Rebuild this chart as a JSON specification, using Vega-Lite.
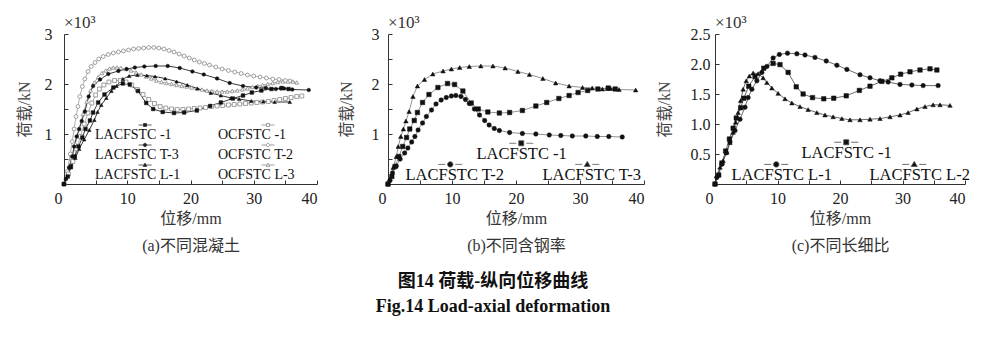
{
"$schema":"https://vega.github.io/schema/vega-lite/v6.json",
"background":"white",
"padding":{"left":16,"top":14,"right":10,"bottom":10},
"config":{"view":{"stroke":null},"font":"Liberation Serif",
 "axis":{"grid":false,"domainColor":"#333","tickColor":"#333","tickSize":-4,"labelFont":"Liberation Serif","labelFontSize":16,"labelColor":"#222","titleFont":"Liberation Serif, Noto Sans CJK SC","titleFontSize":16,"titleFontWeight":"normal","titleColor":"#444"},
 "legend":{"labelFont":"Liberation Serif","labelColor":"#111","labelLimit":300,"padding":0}},
"title":{"text":"图14  荷载-纵向位移曲线","subtitle":"Fig.14  Load-axial deformation","orient":"bottom","anchor":"middle","font":"Liberation Serif, Noto Sans CJK SC","fontSize":18,"fontWeight":"bold","color":"#111","subtitleFont":"Liberation Serif","subtitleFontSize":18,"subtitleFontWeight":"bold","subtitleColor":"#111","offset":20,"subtitlePadding":7},
"datasets":{"curves":[
{"specimen":"LACFSTC -1","d":0,"P":0},{"specimen":"LACFSTC -1","d":0.6,"P":0.15},{"specimen":"LACFSTC -1","d":1.1,"P":0.35},{"specimen":"LACFSTC -1","d":1.7,"P":0.55},{"specimen":"LACFSTC -1","d":2.3,"P":0.75},{"specimen":"LACFSTC -1","d":2.9,"P":0.93},{"specimen":"LACFSTC -1","d":3.4,"P":1.1},{"specimen":"LACFSTC -1","d":4.1,"P":1.27},{"specimen":"LACFSTC -1","d":4.6,"P":1.43},{"specimen":"LACFSTC -1","d":5.4,"P":1.63},{"specimen":"LACFSTC -1","d":6.4,"P":1.79},{"specimen":"LACFSTC -1","d":7.8,"P":1.93},{"specimen":"LACFSTC -1","d":9.3,"P":2.01},{"specimen":"LACFSTC -1","d":10.4,"P":1.99},{"specimen":"LACFSTC -1","d":11.7,"P":1.86},{"specimen":"LACFSTC -1","d":13.0,"P":1.62},{"specimen":"LACFSTC -1","d":14.1,"P":1.5},{"specimen":"LACFSTC -1","d":15.6,"P":1.44},{"specimen":"LACFSTC -1","d":17.4,"P":1.42},{"specimen":"LACFSTC -1","d":19.0,"P":1.43},{"specimen":"LACFSTC -1","d":21.0,"P":1.47},{"specimen":"LACFSTC -1","d":23.1,"P":1.56},{"specimen":"LACFSTC -1","d":24.8,"P":1.63},{"specimen":"LACFSTC -1","d":26.7,"P":1.71},{"specimen":"LACFSTC -1","d":28.3,"P":1.77},{"specimen":"LACFSTC -1","d":29.7,"P":1.83},{"specimen":"LACFSTC -1","d":31.2,"P":1.87},{"specimen":"LACFSTC -1","d":32.8,"P":1.9},{"specimen":"LACFSTC -1","d":34.4,"P":1.92},{"specimen":"LACFSTC -1","d":35.5,"P":1.9},
{"specimen":"LACFSTC L-1","d":0,"P":0},{"specimen":"LACFSTC L-1","d":0.3,"P":0.11},{"specimen":"LACFSTC L-1","d":1.1,"P":0.33},{"specimen":"LACFSTC L-1","d":1.8,"P":0.52},{"specimen":"LACFSTC L-1","d":2.4,"P":0.7},{"specimen":"LACFSTC L-1","d":3.2,"P":0.89},{"specimen":"LACFSTC L-1","d":4.0,"P":1.08},{"specimen":"LACFSTC L-1","d":4.8,"P":1.28},{"specimen":"LACFSTC L-1","d":5.3,"P":1.44},{"specimen":"LACFSTC L-1","d":5.9,"P":1.58},{"specimen":"LACFSTC L-1","d":6.7,"P":1.72},{"specimen":"LACFSTC L-1","d":7.5,"P":1.86},{"specimen":"LACFSTC L-1","d":8.3,"P":1.96},{"specimen":"LACFSTC L-1","d":9.3,"P":2.1},{"specimen":"LACFSTC L-1","d":10.3,"P":2.16},{"specimen":"LACFSTC L-1","d":11.6,"P":2.18},{"specimen":"LACFSTC L-1","d":13.1,"P":2.17},{"specimen":"LACFSTC L-1","d":14.4,"P":2.15},{"specimen":"LACFSTC L-1","d":16.0,"P":2.11},{"specimen":"LACFSTC L-1","d":17.8,"P":2.05},{"specimen":"LACFSTC L-1","d":19.5,"P":1.98},{"specimen":"LACFSTC L-1","d":21.1,"P":1.91},{"specimen":"LACFSTC L-1","d":23.2,"P":1.82},{"specimen":"LACFSTC L-1","d":24.8,"P":1.77},{"specimen":"LACFSTC L-1","d":26.4,"P":1.72},{"specimen":"LACFSTC L-1","d":27.7,"P":1.7},{"specimen":"LACFSTC L-1","d":29.6,"P":1.66},{"specimen":"LACFSTC L-1","d":31.5,"P":1.65},{"specimen":"LACFSTC L-1","d":33.3,"P":1.64},{"specimen":"LACFSTC L-1","d":35.7,"P":1.64},
{"specimen":"LACFSTC L-2","d":0,"P":0},{"specimen":"LACFSTC L-2","d":0.3,"P":0.14},{"specimen":"LACFSTC L-2","d":0.8,"P":0.28},{"specimen":"LACFSTC L-2","d":1.3,"P":0.39},{"specimen":"LACFSTC L-2","d":1.9,"P":0.53},{"specimen":"LACFSTC L-2","d":2.4,"P":0.69},{"specimen":"LACFSTC L-2","d":2.9,"P":0.86},{"specimen":"LACFSTC L-2","d":3.3,"P":1.03},{"specimen":"LACFSTC L-2","d":3.7,"P":1.19},{"specimen":"LACFSTC L-2","d":4.1,"P":1.39},{"specimen":"LACFSTC L-2","d":4.5,"P":1.58},{"specimen":"LACFSTC L-2","d":5.0,"P":1.72},{"specimen":"LACFSTC L-2","d":5.5,"P":1.8},{"specimen":"LACFSTC L-2","d":6.1,"P":1.85},{"specimen":"LACFSTC L-2","d":6.9,"P":1.84},{"specimen":"LACFSTC L-2","d":7.7,"P":1.77},{"specimen":"LACFSTC L-2","d":8.3,"P":1.69},{"specimen":"LACFSTC L-2","d":9.1,"P":1.6},{"specimen":"LACFSTC L-2","d":10.1,"P":1.51},{"specimen":"LACFSTC L-2","d":11.2,"P":1.42},{"specimen":"LACFSTC L-2","d":12.3,"P":1.35},{"specimen":"LACFSTC L-2","d":13.6,"P":1.29},{"specimen":"LACFSTC L-2","d":14.9,"P":1.24},{"specimen":"LACFSTC L-2","d":16.3,"P":1.19},{"specimen":"LACFSTC L-2","d":17.6,"P":1.15},{"specimen":"LACFSTC L-2","d":18.9,"P":1.12},{"specimen":"LACFSTC L-2","d":20.3,"P":1.09},{"specimen":"LACFSTC L-2","d":21.6,"P":1.07},{"specimen":"LACFSTC L-2","d":23.2,"P":1.07},{"specimen":"LACFSTC L-2","d":24.8,"P":1.08},{"specimen":"LACFSTC L-2","d":26.4,"P":1.09},{"specimen":"LACFSTC L-2","d":28.0,"P":1.12},{"specimen":"LACFSTC L-2","d":29.6,"P":1.15},{"specimen":"LACFSTC L-2","d":30.9,"P":1.19},{"specimen":"LACFSTC L-2","d":32.3,"P":1.25},{"specimen":"LACFSTC L-2","d":33.6,"P":1.29},{"specimen":"LACFSTC L-2","d":34.9,"P":1.32},{"specimen":"LACFSTC L-2","d":36.0,"P":1.32},{"specimen":"LACFSTC L-2","d":37.6,"P":1.31},
{"specimen":"LACFSTC T-2","d":0,"P":0},{"specimen":"LACFSTC T-2","d":0.3,"P":0.07},{"specimen":"LACFSTC T-2","d":0.7,"P":0.22},{"specimen":"LACFSTC T-2","d":1.3,"P":0.36},{"specimen":"LACFSTC T-2","d":1.9,"P":0.5},{"specimen":"LACFSTC T-2","d":2.6,"P":0.62},{"specimen":"LACFSTC T-2","d":3.1,"P":0.72},{"specimen":"LACFSTC T-2","d":3.7,"P":0.84},{"specimen":"LACFSTC T-2","d":4.2,"P":0.95},{"specimen":"LACFSTC T-2","d":4.7,"P":1.08},{"specimen":"LACFSTC T-2","d":5.4,"P":1.22},{"specimen":"LACFSTC T-2","d":6.0,"P":1.35},{"specimen":"LACFSTC T-2","d":6.8,"P":1.48},{"specimen":"LACFSTC T-2","d":7.5,"P":1.6},{"specimen":"LACFSTC T-2","d":8.3,"P":1.68},{"specimen":"LACFSTC T-2","d":9.1,"P":1.73},{"specimen":"LACFSTC T-2","d":9.9,"P":1.76},{"specimen":"LACFSTC T-2","d":10.6,"P":1.77},{"specimen":"LACFSTC T-2","d":11.4,"P":1.75},{"specimen":"LACFSTC T-2","d":12.1,"P":1.69},{"specimen":"LACFSTC T-2","d":12.7,"P":1.61},{"specimen":"LACFSTC T-2","d":13.5,"P":1.5},{"specimen":"LACFSTC T-2","d":14.3,"P":1.38},{"specimen":"LACFSTC T-2","d":15.1,"P":1.27},{"specimen":"LACFSTC T-2","d":15.8,"P":1.18},{"specimen":"LACFSTC T-2","d":16.6,"P":1.11},{"specimen":"LACFSTC T-2","d":17.4,"P":1.07},{"specimen":"LACFSTC T-2","d":19.0,"P":1.03},{"specimen":"LACFSTC T-2","d":21.0,"P":1.01},{"specimen":"LACFSTC T-2","d":23.1,"P":1.0},{"specimen":"LACFSTC T-2","d":25.2,"P":0.98},{"specimen":"LACFSTC T-2","d":27.0,"P":0.97},{"specimen":"LACFSTC T-2","d":28.8,"P":0.96},{"specimen":"LACFSTC T-2","d":30.9,"P":0.96},{"specimen":"LACFSTC T-2","d":32.7,"P":0.95},{"specimen":"LACFSTC T-2","d":34.5,"P":0.95},{"specimen":"LACFSTC T-2","d":36.6,"P":0.94},
{"specimen":"LACFSTC T-3","d":0,"P":0},{"specimen":"LACFSTC T-3","d":0.3,"P":0.1},{"specimen":"LACFSTC T-3","d":0.8,"P":0.33},{"specimen":"LACFSTC T-3","d":1.3,"P":0.55},{"specimen":"LACFSTC T-3","d":1.6,"P":0.75},{"specimen":"LACFSTC T-3","d":2.0,"P":0.95},{"specimen":"LACFSTC T-3","d":2.4,"P":1.1},{"specimen":"LACFSTC T-3","d":2.8,"P":1.26},{"specimen":"LACFSTC T-3","d":3.3,"P":1.45},{"specimen":"LACFSTC T-3","d":3.9,"P":1.75},{"specimen":"LACFSTC T-3","d":4.6,"P":1.96},{"specimen":"LACFSTC T-3","d":5.7,"P":2.09},{"specimen":"LACFSTC T-3","d":7.0,"P":2.2},{"specimen":"LACFSTC T-3","d":8.6,"P":2.26},{"specimen":"LACFSTC T-3","d":9.9,"P":2.3},{"specimen":"LACFSTC T-3","d":11.2,"P":2.33},{"specimen":"LACFSTC T-3","d":12.7,"P":2.35},{"specimen":"LACFSTC T-3","d":14.5,"P":2.36},{"specimen":"LACFSTC T-3","d":16.4,"P":2.36},{"specimen":"LACFSTC T-3","d":18.3,"P":2.32},{"specimen":"LACFSTC T-3","d":20.3,"P":2.25},{"specimen":"LACFSTC T-3","d":22.1,"P":2.19},{"specimen":"LACFSTC T-3","d":24.2,"P":2.11},{"specimen":"LACFSTC T-3","d":26.2,"P":2.02},{"specimen":"LACFSTC T-3","d":28.3,"P":1.96},{"specimen":"LACFSTC T-3","d":30.4,"P":1.93},{"specimen":"LACFSTC T-3","d":31.9,"P":1.92},{"specimen":"LACFSTC T-3","d":33.5,"P":1.9},{"specimen":"LACFSTC T-3","d":34.3,"P":1.91},{"specimen":"LACFSTC T-3","d":34.8,"P":1.91},{"specimen":"LACFSTC T-3","d":36.1,"P":1.89},{"specimen":"LACFSTC T-3","d":38.7,"P":1.88},
{"specimen":"OCFSTC T-2","d":0,"P":0},{"specimen":"OCFSTC T-2","d":0.5,"P":0.25},{"specimen":"OCFSTC T-2","d":1.0,"P":0.6},{"specimen":"OCFSTC T-2","d":1.3,"P":0.85},{"specimen":"OCFSTC T-2","d":1.6,"P":1.1},{"specimen":"OCFSTC T-2","d":1.9,"P":1.35},{"specimen":"OCFSTC T-2","d":2.2,"P":1.55},{"specimen":"OCFSTC T-2","d":2.5,"P":1.75},{"specimen":"OCFSTC T-2","d":2.9,"P":1.95},{"specimen":"OCFSTC T-2","d":3.3,"P":2.1},{"specimen":"OCFSTC T-2","d":3.8,"P":2.25},{"specimen":"OCFSTC T-2","d":4.3,"P":2.35},{"specimen":"OCFSTC T-2","d":4.9,"P":2.43},{"specimen":"OCFSTC T-2","d":5.5,"P":2.5},{"specimen":"OCFSTC T-2","d":6.2,"P":2.55},{"specimen":"OCFSTC T-2","d":7.0,"P":2.59},{"specimen":"OCFSTC T-2","d":7.8,"P":2.62},{"specimen":"OCFSTC T-2","d":8.6,"P":2.64},{"specimen":"OCFSTC T-2","d":9.4,"P":2.66},{"specimen":"OCFSTC T-2","d":10.2,"P":2.68},{"specimen":"OCFSTC T-2","d":11.0,"P":2.7},{"specimen":"OCFSTC T-2","d":11.8,"P":2.71},{"specimen":"OCFSTC T-2","d":12.6,"P":2.72},{"specimen":"OCFSTC T-2","d":13.4,"P":2.73},{"specimen":"OCFSTC T-2","d":14.2,"P":2.73},{"specimen":"OCFSTC T-2","d":15.0,"P":2.72},{"specimen":"OCFSTC T-2","d":15.8,"P":2.7},{"specimen":"OCFSTC T-2","d":16.6,"P":2.67},{"specimen":"OCFSTC T-2","d":17.4,"P":2.64},{"specimen":"OCFSTC T-2","d":18.2,"P":2.6},{"specimen":"OCFSTC T-2","d":19.0,"P":2.56},{"specimen":"OCFSTC T-2","d":19.8,"P":2.52},{"specimen":"OCFSTC T-2","d":20.6,"P":2.48},{"specimen":"OCFSTC T-2","d":21.4,"P":2.44},{"specimen":"OCFSTC T-2","d":22.2,"P":2.41},{"specimen":"OCFSTC T-2","d":23.0,"P":2.38},{"specimen":"OCFSTC T-2","d":24.0,"P":2.34},{"specimen":"OCFSTC T-2","d":25.0,"P":2.3},{"specimen":"OCFSTC T-2","d":26.0,"P":2.27},{"specimen":"OCFSTC T-2","d":27.0,"P":2.24},{"specimen":"OCFSTC T-2","d":28.0,"P":2.21},{"specimen":"OCFSTC T-2","d":29.0,"P":2.18},{"specimen":"OCFSTC T-2","d":30.0,"P":2.16},{"specimen":"OCFSTC T-2","d":31.0,"P":2.14},{"specimen":"OCFSTC T-2","d":32.0,"P":2.12},{"specimen":"OCFSTC T-2","d":33.0,"P":2.1},{"specimen":"OCFSTC T-2","d":34.0,"P":2.09},{"specimen":"OCFSTC T-2","d":35.0,"P":2.07},{"specimen":"OCFSTC T-2","d":35.7,"P":2.06},
{"specimen":"OCFSTC L-3","d":0,"P":0},{"specimen":"OCFSTC L-3","d":0.6,"P":0.2},{"specimen":"OCFSTC L-3","d":1.2,"P":0.5},{"specimen":"OCFSTC L-3","d":1.8,"P":0.8},{"specimen":"OCFSTC L-3","d":2.4,"P":1.1},{"specimen":"OCFSTC L-3","d":3.0,"P":1.4},{"specimen":"OCFSTC L-3","d":3.6,"P":1.65},{"specimen":"OCFSTC L-3","d":4.2,"P":1.87},{"specimen":"OCFSTC L-3","d":4.8,"P":2.03},{"specimen":"OCFSTC L-3","d":5.4,"P":2.14},{"specimen":"OCFSTC L-3","d":6.0,"P":2.22},{"specimen":"OCFSTC L-3","d":6.6,"P":2.27},{"specimen":"OCFSTC L-3","d":7.2,"P":2.31},{"specimen":"OCFSTC L-3","d":7.8,"P":2.33},{"specimen":"OCFSTC L-3","d":8.4,"P":2.33},{"specimen":"OCFSTC L-3","d":9.0,"P":2.32},{"specimen":"OCFSTC L-3","d":9.8,"P":2.3},{"specimen":"OCFSTC L-3","d":10.6,"P":2.27},{"specimen":"OCFSTC L-3","d":11.4,"P":2.23},{"specimen":"OCFSTC L-3","d":12.2,"P":2.19},{"specimen":"OCFSTC L-3","d":13.0,"P":2.15},{"specimen":"OCFSTC L-3","d":13.8,"P":2.11},{"specimen":"OCFSTC L-3","d":14.6,"P":2.07},{"specimen":"OCFSTC L-3","d":15.4,"P":2.04},{"specimen":"OCFSTC L-3","d":16.2,"P":2.02},{"specimen":"OCFSTC L-3","d":17.0,"P":2.0},{"specimen":"OCFSTC L-3","d":17.8,"P":1.98},{"specimen":"OCFSTC L-3","d":18.6,"P":1.96},{"specimen":"OCFSTC L-3","d":19.4,"P":1.95},{"specimen":"OCFSTC L-3","d":20.2,"P":1.93},{"specimen":"OCFSTC L-3","d":21.0,"P":1.91},{"specimen":"OCFSTC L-3","d":21.8,"P":1.89},{"specimen":"OCFSTC L-3","d":22.6,"P":1.87},{"specimen":"OCFSTC L-3","d":23.4,"P":1.86},{"specimen":"OCFSTC L-3","d":24.2,"P":1.85},{"specimen":"OCFSTC L-3","d":25.0,"P":1.85},{"specimen":"OCFSTC L-3","d":25.8,"P":1.85},{"specimen":"OCFSTC L-3","d":26.6,"P":1.86},{"specimen":"OCFSTC L-3","d":27.4,"P":1.87},{"specimen":"OCFSTC L-3","d":28.2,"P":1.89},{"specimen":"OCFSTC L-3","d":29.0,"P":1.91},{"specimen":"OCFSTC L-3","d":29.8,"P":1.94},{"specimen":"OCFSTC L-3","d":30.6,"P":1.96},{"specimen":"OCFSTC L-3","d":31.4,"P":1.98},{"specimen":"OCFSTC L-3","d":32.2,"P":2.0},{"specimen":"OCFSTC L-3","d":33.0,"P":2.02},{"specimen":"OCFSTC L-3","d":33.8,"P":2.04},{"specimen":"OCFSTC L-3","d":34.6,"P":2.05},{"specimen":"OCFSTC L-3","d":35.4,"P":2.05},{"specimen":"OCFSTC L-3","d":36.2,"P":2.05},{"specimen":"OCFSTC L-3","d":36.8,"P":2.03},
{"specimen":"OCFSTC -1","d":0,"P":0},{"specimen":"OCFSTC -1","d":0.7,"P":0.2},{"specimen":"OCFSTC -1","d":1.4,"P":0.45},{"specimen":"OCFSTC -1","d":2.0,"P":0.7},{"specimen":"OCFSTC -1","d":2.6,"P":0.95},{"specimen":"OCFSTC -1","d":3.2,"P":1.2},{"specimen":"OCFSTC -1","d":3.8,"P":1.42},{"specimen":"OCFSTC -1","d":4.4,"P":1.62},{"specimen":"OCFSTC -1","d":5.0,"P":1.78},{"specimen":"OCFSTC -1","d":5.6,"P":1.9},{"specimen":"OCFSTC -1","d":6.3,"P":1.98},{"specimen":"OCFSTC -1","d":7.1,"P":2.04},{"specimen":"OCFSTC -1","d":8.0,"P":2.07},{"specimen":"OCFSTC -1","d":8.9,"P":2.07},{"specimen":"OCFSTC -1","d":9.8,"P":2.04},{"specimen":"OCFSTC -1","d":10.7,"P":1.98},{"specimen":"OCFSTC -1","d":11.6,"P":1.89},{"specimen":"OCFSTC -1","d":12.5,"P":1.79},{"specimen":"OCFSTC -1","d":13.4,"P":1.69},{"specimen":"OCFSTC -1","d":14.3,"P":1.61},{"specimen":"OCFSTC -1","d":15.2,"P":1.55},{"specimen":"OCFSTC -1","d":16.1,"P":1.52},{"specimen":"OCFSTC -1","d":17.0,"P":1.5},{"specimen":"OCFSTC -1","d":17.9,"P":1.49},{"specimen":"OCFSTC -1","d":18.8,"P":1.49},{"specimen":"OCFSTC -1","d":19.7,"P":1.5},{"specimen":"OCFSTC -1","d":20.6,"P":1.51},{"specimen":"OCFSTC -1","d":21.5,"P":1.52},{"specimen":"OCFSTC -1","d":22.4,"P":1.53},{"specimen":"OCFSTC -1","d":23.3,"P":1.55},{"specimen":"OCFSTC -1","d":24.2,"P":1.56},{"specimen":"OCFSTC -1","d":25.1,"P":1.57},{"specimen":"OCFSTC -1","d":26.0,"P":1.58},{"specimen":"OCFSTC -1","d":26.9,"P":1.59},{"specimen":"OCFSTC -1","d":27.8,"P":1.6},{"specimen":"OCFSTC -1","d":28.7,"P":1.61},{"specimen":"OCFSTC -1","d":29.6,"P":1.62},{"specimen":"OCFSTC -1","d":30.5,"P":1.63},{"specimen":"OCFSTC -1","d":31.4,"P":1.64},{"specimen":"OCFSTC -1","d":32.3,"P":1.65},{"specimen":"OCFSTC -1","d":33.2,"P":1.67},{"specimen":"OCFSTC -1","d":34.1,"P":1.69},{"specimen":"OCFSTC -1","d":35.0,"P":1.71},{"specimen":"OCFSTC -1","d":35.9,"P":1.73},{"specimen":"OCFSTC -1","d":36.8,"P":1.75},{"specimen":"OCFSTC -1","d":37.6,"P":1.76}
]},
"bounds":"flush",
"spacing":71,
"hconcat":[
{"width":253,"height":150,
 "title":{"text":"×10³","orient":"top","anchor":"start","frame":"group","font":"Liberation Serif","fontSize":17,"fontWeight":"normal","color":"#333","offset":-6},
 "data":{"name":"curves"},
 "encoding":{
  "x":{"field":"d","type":"quantitative","scale":{"domain":[0,40],"nice":false},"axis":{"title":["位移/mm","(a)不同混凝土"],"titleLineHeight":27,"titleColor":"#333","values":[0,5,10,15,20,25,30,35,40],"labelExpr":"datum.value % 10 === 0 ? datum.label : ''","labelPadding":10,"titlePadding":4,"labelOffset":{"condition":{"test":"datum.value === 0","value":-10},"value":0}}},
  "y":{"field":"P","type":"quantitative","scale":{"domain":[0,3],"nice":false},"axis":{"title":"荷载/kN","values":[0,0.5,1,1.5,2,2.5,3],"labelExpr":"datum.value > 0 && datum.value % 1 === 0 ? format(datum.value, 'd') : ''","labelPadding":16,"titlePadding":12}}
 },
 "layer":[
  {"transform":[{"filter":{"field":"specimen","oneOf":["OCFSTC -1","OCFSTC T-2","OCFSTC L-3"]}}],"mark":{"type":"line","stroke":"#9a9a9a","strokeWidth":0.8},"encoding":{"detail":{"field":"specimen"}}},
  {"transform":[{"filter":{"field":"specimen","oneOf":["LACFSTC -1","LACFSTC T-3","LACFSTC L-1"]}}],"mark":{"type":"line","stroke":"#222","strokeWidth":0.9},"encoding":{"detail":{"field":"specimen"}}},
  {"transform":[{"filter":{"field":"specimen","oneOf":["OCFSTC -1","OCFSTC T-2","OCFSTC L-3"]}}],"mark":{"type":"point","filled":true,"fill":"white","stroke":"#888","strokeWidth":0.8,"size":15,"opacity":1},"encoding":{"shape":{"field":"specimen","scale":{"domain":["OCFSTC -1","OCFSTC T-2","OCFSTC L-3"],"range":["square","circle","triangle-up"]},"legend":null}}},
  {"transform":[{"filter":{"field":"specimen","oneOf":["LACFSTC -1","LACFSTC T-3","LACFSTC L-1"]}}],"mark":{"type":"point","filled":true,"fill":"#111","stroke":"#111","strokeWidth":0.5,"size":13,"opacity":1},"encoding":{"shape":{"field":"specimen","scale":{"domain":["LACFSTC -1","LACFSTC T-3","LACFSTC L-1"],"range":["square","circle","triangle-up"]},"legend":null}}},
  {"transform":[{"filter":"false"}],"mark":{"type":"point","filled":true,"fill":"#111","stroke":"#333","strokeWidth":0.8,"opacity":1},"encoding":{"shape":{"field":"specimen","scale":{"domain":["LACFSTC -1","LACFSTC T-3","LACFSTC L-1"],"range":["M52.5,-10H65.5M57.5,-11.5H60.5V-8.5H57.5Z","M52.5,-10H65.5M57.3,-10A1.7,1.7,0,1,0,60.7,-10A1.7,1.7,0,1,0,57.3,-10Z","M52.5,-10H65.5M59,-11.9L60.8,-8.6H57.2Z"]},"legend":{"orient":"none","legendX":15,"legendY":94,"title":null,"symbolSize":4,"symbolStrokeWidth":0.8,"labelFontSize":14,"labelOffset":2,"rowPadding":-1}}}},
  {"transform":[{"filter":"false"}],"mark":{"type":"point","filled":true,"fill":"white","stroke":"#888","strokeWidth":0.8,"opacity":1},"encoding":{"shape":{"field":"specimen","scale":{"domain":["OCFSTC -1","OCFSTC T-2","OCFSTC L-3"],"range":["M52.5,-10H57.5M60.5,-10H65.5M57.5,-11.5H60.5V-8.5H57.5Z","M52.5,-10H57.3M60.7,-10H65.5M57.3,-10A1.7,1.7,0,1,0,60.7,-10A1.7,1.7,0,1,0,57.3,-10Z","M52.5,-10H57.9M60.1,-10H65.5M59,-11.9L60.8,-8.6H57.2Z"]},"legend":{"orient":"none","legendX":138,"legendY":94,"title":null,"symbolSize":4,"symbolStrokeWidth":0.8,"labelFontSize":14,"labelOffset":2,"rowPadding":-1}}}}
 ],
 "resolve":{"scale":{"shape":"independent"},"legend":{"shape":"independent"}}
},
{"width":256,"height":150,
 "title":{"text":"×10³","orient":"top","anchor":"start","frame":"group","font":"Liberation Serif","fontSize":17,"fontWeight":"normal","color":"#333","offset":-6},
 "data":{"name":"curves"},
 "transform":[{"filter":{"field":"specimen","oneOf":["LACFSTC -1","LACFSTC T-2","LACFSTC T-3"]}}],
 "encoding":{
  "x":{"field":"d","type":"quantitative","scale":{"domain":[0,40],"nice":false},"axis":{"title":["位移/mm","(b)不同含钢率"],"titleLineHeight":27,"titleColor":"#333","values":[0,5,10,15,20,25,30,35,40],"labelExpr":"datum.value % 10 === 0 ? datum.label : ''","labelPadding":10,"titlePadding":4,"labelOffset":{"condition":{"test":"datum.value === 0","value":-10},"value":0}}},
  "y":{"field":"P","type":"quantitative","scale":{"domain":[0,3],"nice":false},"axis":{"title":"荷载/kN","values":[0,0.5,1,1.5,2,2.5,3],"labelExpr":"datum.value > 0 && datum.value % 1 === 0 ? format(datum.value, 'd') : ''","labelPadding":13,"titlePadding":17}}
 },
 "layer":[
  {"mark":{"type":"line","stroke":"#777","strokeWidth":0.8},"encoding":{"detail":{"field":"specimen"}}},
  {"mark":{"type":"point","filled":true,"fill":"#111","stroke":"#111","strokeWidth":0.5,"size":20,"opacity":1},"encoding":{"shape":{"field":"specimen","scale":{"domain":["LACFSTC -1","LACFSTC T-2","LACFSTC T-3"],"range":["square","circle","triangle-up"]},"legend":null}}},
  {"transform":[{"filter":"false"}],"mark":{"type":"point","filled":true,"fill":"#111","stroke":"#555","strokeWidth":0.8,"opacity":1},"encoding":{"shape":{"field":"specimen","scale":{"domain":["LACFSTC -1"],"range":["M43,-11H50M60,-11H67M52.5,-13.5H57.5V-8.5H52.5Z"]},"legend":{"orient":"none","legendX":70,"legendY":112,"title":null,"symbolSize":4,"symbolStrokeWidth":0.8,"labelFontSize":16.5,"labelOffset":2}}}},
  {"transform":[{"filter":"false"}],"mark":{"type":"point","filled":true,"fill":"#111","stroke":"#555","strokeWidth":0.8,"opacity":1},"encoding":{"shape":{"field":"specimen","scale":{"domain":["LACFSTC T-2","LACFSTC T-3"],"range":["M43,-11H50M60,-11H67M52.3,-11A2.7,2.7,0,1,0,57.7,-11A2.7,2.7,0,1,0,52.3,-11Z","M43,-11H50M60,-11H67M55,-14L58,-9H52Z"]},"legend":{"orient":"none","legendX":-1,"legendY":133,"columns":2,"columnPadding":19,"title":null,"symbolSize":4,"symbolStrokeWidth":0.8,"labelFontSize":16.5,"labelOffset":2}}}}
 ],
 "resolve":{"scale":{"shape":"independent"},"legend":{"shape":"independent"}}
},
{"width":250,"height":150,
 "title":{"text":"×10³","orient":"top","anchor":"start","frame":"group","font":"Liberation Serif","fontSize":17,"fontWeight":"normal","color":"#333","offset":-6},
 "data":{"name":"curves"},
 "transform":[{"filter":{"field":"specimen","oneOf":["LACFSTC -1","LACFSTC L-1","LACFSTC L-2"]}}],
 "encoding":{
  "x":{"field":"d","type":"quantitative","scale":{"domain":[0,40],"nice":false},"axis":{"title":["位移/mm","(c)不同长细比"],"titleLineHeight":27,"titleColor":"#333","values":[0,5,10,15,20,25,30,35,40],"labelExpr":"datum.value % 10 === 0 ? datum.label : ''","labelPadding":10,"titlePadding":4,"labelOffset":{"condition":{"test":"datum.value === 0","value":-10},"value":0}}},
  "y":{"field":"P","type":"quantitative","scale":{"domain":[0,2.5],"nice":false},"axis":{"title":"荷载/kN","values":[0,0.5,1,1.5,2,2.5],"labelExpr":"datum.value > 0 ? format(datum.value, '.1f') : ''","labelPadding":9,"titlePadding":18}}
 },
 "layer":[
  {"mark":{"type":"line","stroke":"#444","strokeWidth":0.8},"encoding":{"detail":{"field":"specimen"}}},
  {"mark":{"type":"point","filled":true,"fill":"#111","stroke":"#111","strokeWidth":0.5,"size":20,"opacity":1},"encoding":{"shape":{"field":"specimen","scale":{"domain":["LACFSTC -1","LACFSTC L-1","LACFSTC L-2"],"range":["square","circle","triangle-up"]},"legend":null}}},
  {"transform":[{"filter":"false"}],"mark":{"type":"point","filled":true,"fill":"#111","stroke":"#444","strokeWidth":0.8,"opacity":1},"encoding":{"shape":{"field":"specimen","scale":{"domain":["LACFSTC -1"],"range":["M43,-11H50M60,-11H67M52.5,-13.5H57.5V-8.5H52.5Z"]},"legend":{"orient":"none","legendX":68,"legendY":111,"title":null,"symbolSize":4,"symbolStrokeWidth":0.8,"labelFontSize":16.5,"labelOffset":2}}}},
  {"transform":[{"filter":"false"}],"mark":{"type":"point","filled":true,"fill":"#111","stroke":"#444","strokeWidth":0.8,"opacity":1},"encoding":{"shape":{"field":"specimen","scale":{"domain":["LACFSTC L-1","LACFSTC L-2"],"range":["M43,-11H50M60,-11H67M52.3,-11A2.7,2.7,0,1,0,57.7,-11A2.7,2.7,0,1,0,52.3,-11Z","M43,-11H50M60,-11H67M55,-14L58,-9H52Z"]},"legend":{"orient":"none","legendX":-2,"legendY":133,"columns":2,"columnPadding":19,"title":null,"symbolSize":4,"symbolStrokeWidth":0.8,"labelFontSize":16.5,"labelOffset":2}}}}
 ],
 "resolve":{"scale":{"shape":"independent"},"legend":{"shape":"independent"}}
}
]
}
